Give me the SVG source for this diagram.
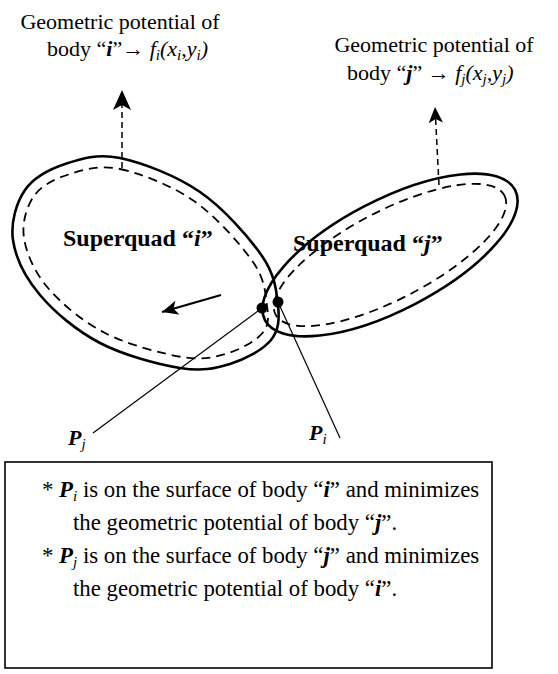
<svg xmlns="http://www.w3.org/2000/svg" width="558" height="674" viewBox="0 0 558 674">
<style>
text{font-family:"Liberation Serif","Times New Roman",serif;fill:#000}
.t{font-size:22px}
.b{font-size:22.8px}
.bi{font-weight:bold;font-style:italic}
.it{font-style:italic}
.sq{font-size:24px;font-weight:bold}
.solid{fill:none;stroke:#000;stroke-width:2.6}
.dash{fill:none;stroke:#000;stroke-width:1.8;stroke-dasharray:9 6}
.lead{fill:none;stroke:#000;stroke-width:1.5;stroke-dasharray:6 4}
.thin{fill:none;stroke:#000;stroke-width:1.2}
</style>
<defs>
<marker id="ah" viewBox="0 0 20 20" refX="20" refY="10" markerWidth="20" markerHeight="20" markerUnits="userSpaceOnUse" orient="auto">
<path d="M0,1 L20,10 L0,19 L5,10 Z" fill="#000"/>
</marker>
<marker id="ah2" viewBox="0 0 20 20" refX="20" refY="10" markerWidth="16" markerHeight="16" markerUnits="userSpaceOnUse" orient="auto">
<path d="M0,1 L20,10 L0,19 L5,10 Z" fill="#000"/>
</marker>
</defs>
<rect width="558" height="674" fill="#fff"/>

<g id="title-i">
<text class="t" x="120" y="29" text-anchor="middle">Geometric potential of</text>
<text class="t" x="47" y="56">body “<tspan class="bi">i</tspan>”→ <tspan class="it">f<tspan font-size="15" dy="4">i</tspan><tspan dy="-4">(x</tspan><tspan font-size="15" dy="4">i</tspan><tspan dy="-4">,y</tspan><tspan font-size="15" dy="4">i</tspan><tspan dy="-4">)</tspan></tspan></text>
</g>

<g id="title-j">
<text class="t" x="434" y="52" text-anchor="middle">Geometric potential of</text>
<text class="t" x="347" y="80">body “<tspan class="bi">j</tspan>” → <tspan class="it">f<tspan font-size="15" dy="4">j</tspan><tspan dy="-4">(x</tspan><tspan font-size="15" dy="4">j</tspan><tspan dy="-4">,y</tspan><tspan font-size="15" dy="4">j</tspan><tspan dy="-4">)</tspan></tspan></text>
</g>

<g id="superquad-i">
<path class="solid" d="M120,158 C142.5,162.7 176.3,175.7 200,192 C223.7,208.3 249,237.2 262,256 C275,274.8 276.5,291 278,305 C279.5,319 279,330.2 271,340 C263,349.8 245.2,359.3 230,364 C214.8,368.7 201.7,371.5 180,368 C158.3,364.5 123.3,355.2 100,343 C76.7,330.8 54.5,312.2 40,295 C25.5,277.8 15.5,257.5 13,240 C10.5,222.5 16.3,202.7 25,190 C33.7,177.3 49.2,169.3 65,164 C80.8,158.7 97.5,153.3 120,158 Z"/>
<path class="dash" d="M120,169 C140.9,173.4 171.8,185.5 194,201 C216.2,216.5 240.8,244.5 253,262 C265.2,279.5 265.4,294.2 267,306 C268.6,317.8 269.2,325.1 262.5,333 C255.8,340.9 240.4,349.5 227,353.5 C213.6,357.5 202.3,360.4 182,357 C161.7,353.6 127.3,344.5 105,333 C82.7,321.5 61.5,303.8 48,288 C34.5,272.2 26.3,253.3 24,238 C21.7,222.7 26.6,206.6 34,196 C41.4,185.4 54.2,179 68.5,174.5 C82.8,170 99.1,164.6 120,169 Z"/>
<text class="sq" x="63" y="246">Superquad “<tspan class="bi">i</tspan>”</text>
</g>

<g id="superquad-j">
<ellipse class="solid" cx="390" cy="255" rx="141" ry="55" transform="rotate(-27.5 390 255)"/>
<ellipse class="dash" cx="390" cy="255" rx="129" ry="44" transform="rotate(-27.5 390 255)"/>
<text class="sq" x="293" y="251">Superquad “<tspan class="bi">j</tspan>”</text>
</g>

<g id="point-Pj">
<circle cx="262" cy="308" r="5.5" fill="#000"/>
<text class="t" x="68" y="445"><tspan class="bi">P</tspan><tspan class="it" font-size="15" dy="4">j</tspan></text>
</g>
<g id="point-Pi">
<circle cx="278" cy="302" r="5.5" fill="#000"/>
<text class="t" x="309" y="440"><tspan class="bi">P</tspan><tspan class="it" font-size="15" dy="4">i</tspan></text>
</g>

<g id="connectors">
<path class="lead" d="M122,168 L122,90" marker-end="url(#ah)"/>
<path class="lead" d="M439,185 L435,107" marker-end="url(#ah2)"/>
<path class="thin" d="M262,308 L93,433"/>
<path class="thin" d="M278,302 L340,438"/>
<path fill="none" stroke="#000" stroke-width="2.2" d="M221,295 L162,312" marker-end="url(#ah2)"/>
</g>

<g id="note-box">
<rect x="5" y="462" width="487" height="206" fill="none" stroke="#000" stroke-width="1.6"/>
<text class="b" x="42" y="497">* <tspan class="bi">P</tspan><tspan class="it" font-size="15" dy="4">i</tspan><tspan dy="-4"> is on the surface of body “</tspan><tspan class="bi">i</tspan>” and minimizes</text>
<text class="b" x="73" y="530">the geometric potential of body “<tspan class="bi">j</tspan>”.</text>
<text class="b" x="42" y="563">* <tspan class="bi">P</tspan><tspan class="it" font-size="15" dy="4">j</tspan><tspan dy="-4"> is on the surface of body “</tspan><tspan class="bi">j</tspan>” and minimizes</text>
<text class="b" x="73" y="596">the geometric potential of body “<tspan class="bi">i</tspan>”.</text>
</g>
</svg>
